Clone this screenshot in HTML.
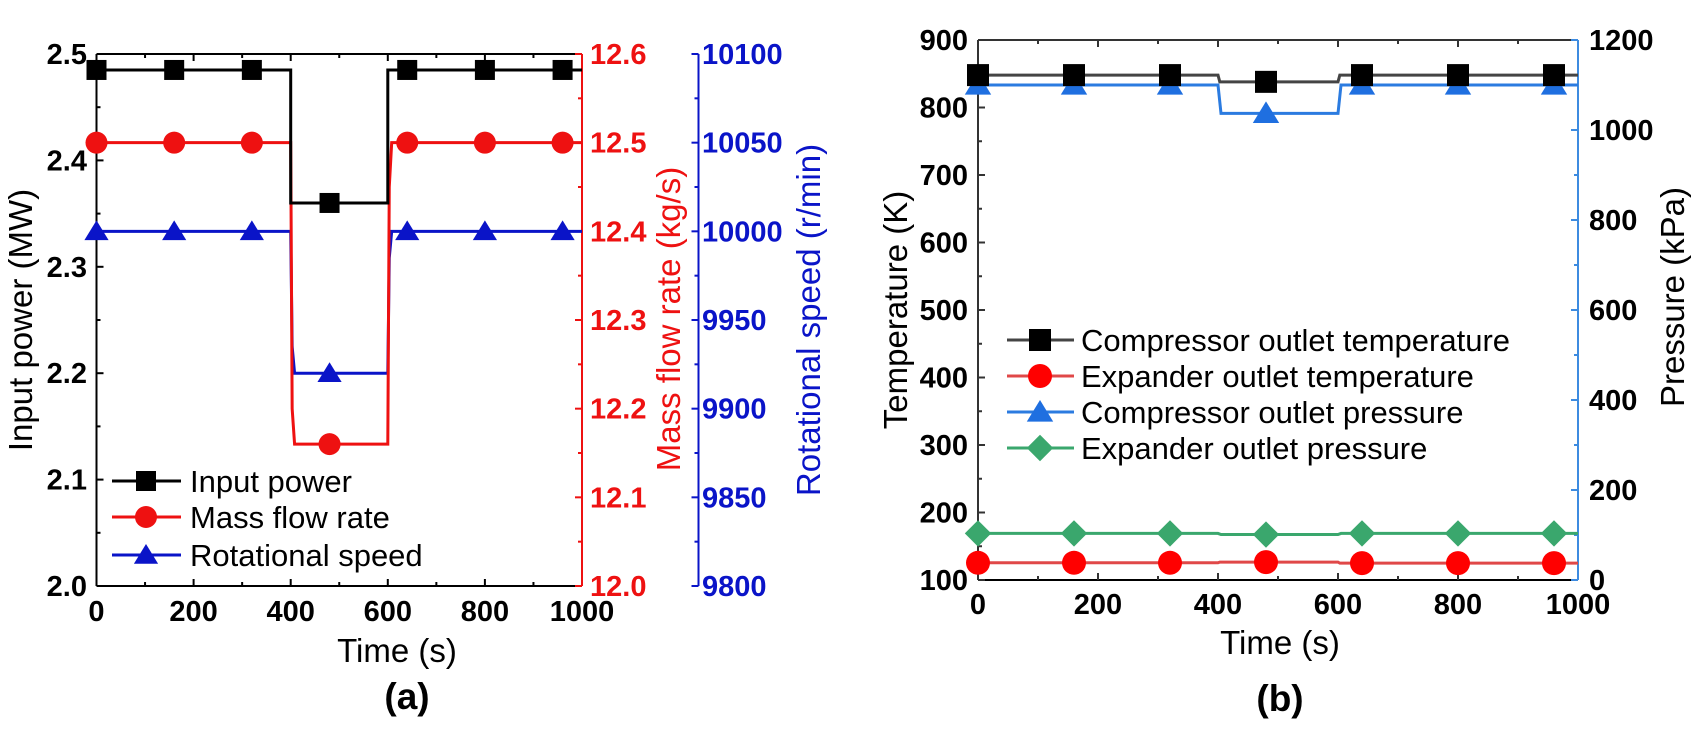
<!DOCTYPE html>
<html><head><meta charset="utf-8">
<style>
html,body{margin:0;padding:0;background:#fff;}
svg{display:block;font-family:"Liberation Sans",Arial,sans-serif;}
.tk{font-weight:bold;font-size:29px;}
.ti{font-size:33px;}
.lg{font-size:31px;}
</style></head>
<body>
<svg id="fig" width="1700" height="744" viewBox="0 0 1700 744" xmlns="http://www.w3.org/2000/svg">
<g id="chartA"></g>
<g id="chartB"></g>
</svg>
<script>
// ---------- data: chart (a) ----------
const xTicksA = [0,200,400,600,800,1000];
const powerTicks = ["2.0","2.1","2.2","2.3","2.4","2.5"];
const massTicks = ["12.0","12.1","12.2","12.3","12.4","12.5","12.6"];
const speedTicks = ["9800","9850","9900","9950","10000","10050","10100"];
const markerTimes = [0,160,320,480,640,800,960];
const powerT = [0,400,400,600,600,1000];
const powerV = [2.485,2.485,2.36,2.36,2.485,2.485];
const massT = [0,400,403,408,600,603,608,1000];
const massV = [12.5,12.5,12.2,12.16,12.16,12.45,12.5,12.5];
const speedT = [0,400,403,408,600,603,608,1000];
const speedV = [10000,10000,9935,9920,9920,9985,10000,10000];
// ---------- data: chart (b) ----------
const tempTicks = ["100","200","300","400","500","600","700","800","900"];
const presTicks = ["0","200","400","600","800","1000","1200"];
const compTT = [0,400,403,600,603,1000];
const compTV = [848,848,838,838,848,848];
const expTT = [0,400,403,600,603,1000];
const expTV = [125.5,125.5,126.5,126.5,125,125];
const compPT = [0,400,405,600,605,1000];
const compPV = [1100,1100,1037,1037,1100,1100];
const expPT = [0,400,405,600,605,1000];
const expPV = [103.5,103.5,101,101,103.5,103.5];

const NS="http://www.w3.org/2000/svg";
function mk(parent,tag,attrs,text){const e=document.createElementNS(NS,tag);for(const k in attrs)e.setAttribute(k,attrs[k]);if(text!==undefined)e.textContent=text;parent.appendChild(e);return e;}
function valueAt(ts,vs,t){for(let i=0;i<ts.length-1;i++){if(t>=ts[i]&&t<=ts[i+1]){if(ts[i+1]===ts[i])return vs[i+1];return vs[i]+(vs[i+1]-vs[i])*(t-ts[i])/(ts[i+1]-ts[i]);}}return vs[vs.length-1];}
function marker(g,shape,x,y,s,fill){
  let e;
  if(shape==='square'){e=mk(g,'rect',{x:x-s,y:y-s,width:2*s,height:2*s,fill:fill});}
  else if(shape==='circle'){e=mk(g,'circle',{cx:x,cy:y,r:s,fill:fill});}
  else if(shape==='tri'){e=mk(g,'polygon',{points:`${x},${y-s} ${x+s*1.1},${y+s*0.8} ${x-s*1.1},${y+s*0.8}`,fill:fill});}
  else {e=mk(g,'polygon',{points:`${x},${y-s*1.1} ${x+s*1.1},${y} ${x},${y+s*1.1} ${x-s*1.1},${y}`,fill:fill});}
  
  
  return e;
}
function series(g,name,ts,vs,xf,yf,color,shape,s,mfill,w){
  const sg=mk(g,'g',{});
  
  
  const pts=ts.map((t,i)=>xf(t)+','+yf(vs[i])).join(' ');
  const pl=mk(sg,'polyline',{points:pts,fill:'none',stroke:color,'stroke-width':w||3});
  
  
  markerTimes.forEach(t=>marker(sg,shape,xf(t),yf(valueAt(ts,vs,t)),s,mfill));
}

// ---------- chart (a) ----------
(function(){
  const g=document.getElementById('chartA');
  const L=96.5,R=582,T=54,B=586;
  const x=t=>L+t*(R-L)/1000;
  const yP=v=>B-(v-2)/0.5*(B-T);
  const yM=v=>B-(v-12)/0.6*(B-T);
  const yS=v=>B-(v-9800)/300*(B-T);
  const ax=mk(g,'g',{stroke:'#000','stroke-width':2});
  
  
  mk(ax,'line',{x1:L,y1:T,x2:L,y2:B});
  mk(ax,'line',{x1:L,y1:B,x2:R,y2:B});
  mk(ax,'line',{x1:L,y1:T,x2:R,y2:T});
  for(let t=0;t<=1000;t+=100){const maj=t%200===0,l=maj?7:4;
    mk(ax,'line',{x1:x(t),y1:B,x2:x(t),y2:B-l});mk(ax,'line',{x1:x(t),y1:T,x2:x(t),y2:T+l});}
  for(let i=0;i<=10;i++){const v=2+i*0.05,l=i%2===0?7:4;mk(ax,'line',{x1:L,y1:yP(v),x2:L+l,y2:yP(v)});}
  const ra=mk(g,'g',{stroke:'#ee1111','stroke-width':2});
  
  
  mk(ra,'line',{x1:R,y1:T,x2:R,y2:B});
  for(let i=0;i<=12;i++){const v=12+i*0.05,l=i%2===0?7:4;mk(ra,'line',{x1:R,y1:yM(v),x2:R-l,y2:yM(v)});}
  const BX=698.5;
  const ba=mk(g,'g',{stroke:'#0a14c8','stroke-width':2});
  
  
  mk(ba,'line',{x1:BX,y1:T,x2:BX,y2:B});
  for(let i=0;i<=12;i++){const v=9800+i*25,l=i%2===0?7:4;mk(ba,'line',{x1:BX,y1:yS(v),x2:BX-l,y2:yS(v)});}
  xTicksA.forEach(t=>{const e=mk(g,'text',{x:x(t),y:621,'text-anchor':'middle',class:'tk'},String(t));
    });
  powerTicks.forEach(s=>{const e=mk(g,'text',{x:87,y:yP(parseFloat(s))+10,'text-anchor':'end',class:'tk'},s);
    });
  massTicks.forEach(s=>{const e=mk(g,'text',{x:590,y:yM(parseFloat(s))+10,'text-anchor':'start',class:'tk',fill:'#ee1111'},s);
    });
  speedTicks.forEach(s=>{const e=mk(g,'text',{x:702,y:yS(parseFloat(s))+10,'text-anchor':'start',class:'tk',fill:'#0a14c8'},s);
    });
  let e;
  e=mk(g,'text',{x:397,y:662,'text-anchor':'middle',class:'ti'},'Time (s)');
  
  e=mk(g,'text',{x:407,y:709,'text-anchor':'middle','font-size':37,'font-weight':'bold'},'(a)');
  
  e=mk(g,'text',{x:0,y:0,'text-anchor':'middle',class:'ti',transform:'translate(32,320) rotate(-90)'},'Input power (MW)');
  
  e=mk(g,'text',{x:0,y:0,'text-anchor':'middle',class:'ti',fill:'#ee1111',transform:'translate(680,319) rotate(-90)'},'Mass flow rate (kg/s)');
  
  e=mk(g,'text',{x:0,y:0,'text-anchor':'middle',class:'ti',fill:'#0a14c8',transform:'translate(820,320) rotate(-90)'},'Rotational speed (r/min)');
  
  series(g,'speed-series',speedT,speedV,x,yS,'#0a14c8','tri',11,'#0a14c8');
  series(g,'mass-series',massT,massV,x,yM,'#ee1111','circle',11,'#ee1111');
  series(g,'power-series',powerT,powerV,x,yP,'#000','square',10,'#000');
  const lg=mk(g,'g',{});
  
  [['Input power','#000','square',481,10],['Mass flow rate','#ee1111','circle',517,11],['Rotational speed','#0a14c8','tri',555,11]].forEach(d=>{
    const eg=mk(lg,'g',{});
    
    mk(eg,'line',{x1:112,y1:d[3],x2:181,y2:d[3],stroke:d[1],'stroke-width':3});
    marker(eg,d[2],146,d[3],d[4],d[1]);
    mk(eg,'text',{x:190,y:d[3]+11,class:'lg'},d[0]);
  });
})();

// ---------- chart (b) ----------
(function(){
  const g=document.getElementById('chartB');
  const L=978,R=1578,T=40,B=580;
  const x=t=>L+t*(R-L)/1000;
  const yT=v=>B-(v-100)/800*(B-T);
  const yPr=v=>B-v/1200*(B-T);
  const ax=mk(g,'g',{stroke:'#333','stroke-width':2});
  
  mk(ax,'line',{x1:L,y1:T,x2:L,y2:B});
  mk(ax,'line',{x1:L,y1:B,x2:R,y2:B,stroke:'#000'});
  mk(ax,'line',{x1:L,y1:T,x2:R,y2:T});
  for(let t=0;t<=1000;t+=100){const l=t%200===0?7:4;
    mk(ax,'line',{x1:x(t),y1:B,x2:x(t),y2:B-l});mk(ax,'line',{x1:x(t),y1:T,x2:x(t),y2:T+l});}
  for(let v=100;v<=900;v+=50){const l=v%100===0?7:4;mk(ax,'line',{x1:L,y1:yT(v),x2:L+l,y2:yT(v)});}
  const pa=mk(g,'g',{stroke:'#3d8be0','stroke-width':2});
  
  mk(pa,'line',{x1:R,y1:T,x2:R,y2:B});
  for(let v=0;v<=1200;v+=100){const l=v%200===0?7:4;mk(pa,'line',{x1:R,y1:yPr(v),x2:R-l,y2:yPr(v)});}
  xTicksA.forEach(t=>{const e=mk(g,'text',{x:x(t),y:614,'text-anchor':'middle',class:'tk'},String(t));
    });
  tempTicks.forEach(s=>{const e=mk(g,'text',{x:968,y:yT(parseFloat(s))+10,'text-anchor':'end',class:'tk'},s);
    });
  presTicks.forEach(s=>{const e=mk(g,'text',{x:1589,y:yPr(parseFloat(s))+10,'text-anchor':'start',class:'tk'},s);
    });
  let e;
  e=mk(g,'text',{x:1280,y:654,'text-anchor':'middle',class:'ti'},'Time (s)');
  
  e=mk(g,'text',{x:1280,y:711,'text-anchor':'middle','font-size':37,'font-weight':'bold'},'(b)');
  
  e=mk(g,'text',{x:0,y:0,'text-anchor':'middle',class:'ti',transform:'translate(907,310) rotate(-90)'},'Temperature (K)');
  
  e=mk(g,'text',{x:0,y:0,'text-anchor':'middle',class:'ti',transform:'translate(1684,297) rotate(-90)'},'Pressure (kPa)');
  
  series(g,'expander-pressure-series',expPT,expPV,x,yPr,'#3aa76d','diamond',12,'#3aa76d');
  series(g,'expander-temperature-series',expTT,expTV,x,yT,'#e04848','circle',12,'#ff0000');
  series(g,'compressor-pressure-series',compPT,compPV,x,yPr,'#2b7be0','tri',12,'#1f6fe0');
  series(g,'compressor-temperature-series',compTT,compTV,x,yT,'#444','square',11,'#000');
  const lg=mk(g,'g',{});
  
  [['Compressor outlet temperature','#444','#000','square',340,11],['Expander outlet temperature','#e04848','#ff0000','circle',376,12],
   ['Compressor outlet pressure','#2b7be0','#1f6fe0','tri',412,12],['Expander outlet pressure','#3aa76d','#3aa76d','diamond',448,12]].forEach(d=>{
    const eg=mk(lg,'g',{});
    
    mk(eg,'line',{x1:1007,y1:d[4],x2:1074,y2:d[4],stroke:d[1],'stroke-width':3});
    marker(eg,d[3],1040,d[4],d[5],d[2]);
    mk(eg,'text',{x:1081,y:d[4]+11,class:'lg'},d[0]);
  });
})();
</script>
</body></html>
